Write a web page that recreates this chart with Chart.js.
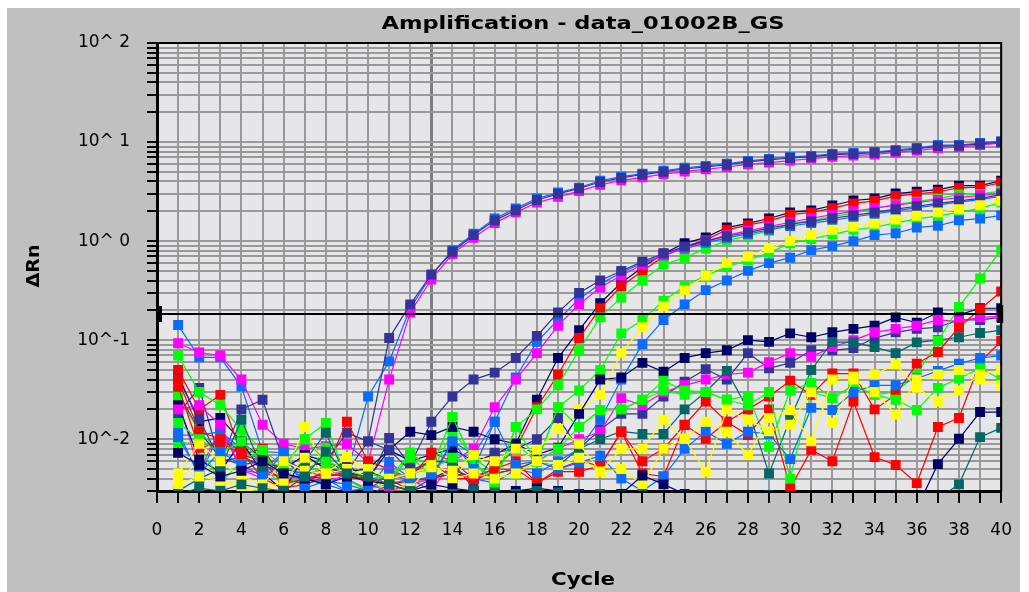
<!DOCTYPE html>
<html>
<head>
<meta charset="utf-8">
<script src="https://cdn.jsdelivr.net/npm/chart.js@4.4.0/dist/chart.umd.min.js"></script>
<style>
  html, body { margin: 0; padding: 0; background: #fff; }
</style>
</head>
<body>
<canvas id="ampChart" width="1029" height="592"></canvas>
<script>
// cycle numbers on the x axis
const cycles = [1,2,3,4,5,6,7,8,9,10,11,12,13,14,15,16,17,18,19,20,21,22,23,24,25,26,27,28,29,30,31,32,33,34,35,36,37,38,39,40]
const xTickLabels = ['0','2','4','6','8','10','12','14','16','18','20','22','24','26','28','30','32','34','36','38','40']
const decadeValues = [0.01, 0.1, 1, 10, 100]
const decadeLabels = ['10^-2', '10^-1', '10^ 0', '10^ 1', '10^ 2']

const threshold = 0.183

// delta Rn per well, cycles 1..40
const earlyBlue = [0.142,0.067,0.067,0.034,0.0075,0.0073,0.0042,0.0035,0.0045,0.027,0.061,0.21,0.45,0.81,1.19,1.69,2.14,2.69,3.09,3.47,4.07,4.47,4.79,5.13,5.5,5.75,6.03,6.46,6.76,7.08,7.24,7.59,7.76,7.94,8.32,8.71,9.33,9.33,9.77,10.2]
const earlyMagenta = [0.093,0.075,0.07,0.04,0.014,0.009,0.008,0.0085,0.009,0.0058,0.04,0.19,0.41,0.74,1.08,1.52,1.95,2.45,2.8,3.2,3.7,4.1,4.4,4.75,5.05,5.3,5.6,5.95,6.2,6.5,6.8,7.1,7.3,7.5,7.85,8.2,8.7,8.9,9.3,9.8]
const earlySlate = [0.018,0.033,0.0058,0.02,0.025,0.006,0.005,0.006,0.0116,0.0095,0.105,0.23,0.46,0.78,1.15,1.62,2.05,2.6,3.0,3.4,3.95,4.35,4.7,5.0,5.35,5.6,5.9,6.3,6.6,6.9,7.1,7.45,7.6,7.8,8.15,8.55,9.1,9.2,9.6,10.0]

const midNavy = [0.044,0.015,0.0164,0.0095,0.0062,0.005,0.0069,0.006,0.0047,0.004,0.0078,0.006,0.007,0.008,0.006,0.007,0.009,0.025,0.066,0.126,0.236,0.38,0.54,0.75,0.95,1.09,1.37,1.51,1.69,1.95,2.04,2.29,2.57,2.69,3.02,3.16,3.31,3.63,3.63,4.07]
const midRed = [0.05,0.02,0.028,0.007,0.008,0.004,0.0035,0.005,0.015,0.006,0.005,0.004,0.0073,0.006,0.004,0.0051,0.008,0.021,0.045,0.105,0.21,0.35,0.5,0.7,0.88,1.03,1.3,1.45,1.6,1.85,1.95,2.15,2.4,2.55,2.85,3.0,3.15,3.45,3.5,3.9]
const midMagenta = [0.025,0.0047,0.013,0.0049,0.004,0.006,0.005,0.004,0.004,0.003,0.0047,0.004,0.003,0.006,0.008,0.021,0.04,0.074,0.14,0.23,0.34,0.45,0.58,0.72,0.86,1.0,1.15,1.27,1.4,1.55,1.7,1.85,2.0,2.15,2.3,2.45,2.6,2.75,2.9,3.05]
const midBlue = [0.011,0.011,0.0119,0.008,0.006,0.0045,0.004,0.0035,0.003,0.0032,0.0059,0.004,0.0039,0.0095,0.007,0.015,0.042,0.096,0.16,0.26,0.37,0.48,0.6,0.72,0.84,0.96,1.08,1.18,1.3,1.42,1.52,1.62,1.75,1.88,2.02,2.18,2.32,2.48,2.62,2.85]
const midSlate = [0.03,0.012,0.0065,0.0055,0.006,0.005,0.0045,0.005,0.0058,0.0035,0.0103,0.0055,0.015,0.027,0.04,0.047,0.066,0.11,0.19,0.3,0.4,0.5,0.62,0.75,0.88,1.0,1.12,1.22,1.35,1.48,1.58,1.7,1.82,1.95,2.1,2.25,2.4,2.55,2.7,2.95]
const midGreen = [0.07,0.03,0.022,0.0124,0.0078,0.0053,0.01,0.0146,0.0039,0.0032,0.0035,0.0073,0.005,0.0168,0.0058,0.0036,0.0133,0.02,0.035,0.079,0.17,0.27,0.4,0.58,0.68,0.84,1.01,1.13,1.27,1.5,1.6,1.78,1.9,2.14,2.35,2.5,2.7,2.95,3.0,3.2]

const lateGreen = [0.027,0.012,0.0073,0.009,0.005,0.0035,0.0042,0.0082,0.0039,0.003,0.004,0.0065,0.0045,0.012,0.0065,0.0045,0.009,0.0059,0.021,0.031,0.05,0.117,0.16,0.25,0.35,0.45,0.55,0.64,0.76,0.95,1.05,1.17,1.3,1.38,1.53,1.67,1.8,1.95,2.15,2.45]
const lateYellow = [0.0039,0.006,0.004,0.003,0.0031,0.004,0.0133,0.005,0.0066,0.004,0.003,0.003,0.0058,0.004,0.0069,0.005,0.006,0.0078,0.0127,0.02,0.028,0.074,0.135,0.22,0.32,0.45,0.6,0.7,0.85,1.0,1.15,1.3,1.4,1.5,1.65,1.8,1.95,2.1,2.3,2.55]
const lateBlue = [0.012,0.0042,0.0119,0.007,0.005,0.0073,0.0035,0.004,0.003,0.0027,0.0035,0.004,0.0039,0.005,0.004,0.0036,0.005,0.0045,0.006,0.008,0.0157,0.04,0.091,0.16,0.23,0.32,0.4,0.5,0.6,0.68,0.81,0.89,1.0,1.15,1.2,1.37,1.43,1.62,1.69,1.82]

const lowNavy = [0.022,0.0062,0.0047,0.0095,0.0046,0.003,0.0069,0.005,0.0047,0.005,0.0078,0.0119,0.011,0.0133,0.0119,0.01,0.009,0.007,0.0082,0.018,0.04,0.042,0.059,0.048,0.066,0.074,0.079,0.1,0.096,0.117,0.107,0.12,0.13,0.14,0.17,0.15,0.19,0.18,0.21,0.21]
const lowSlate = [0.041,0.016,0.006,0.0065,0.0055,0.0045,0.004,0.0042,0.0047,0.0095,0.0078,0.0048,0.006,0.0058,0.0032,0.0073,0.008,0.01,0.0164,0.008,0.0125,0.018,0.018,0.027,0.038,0.051,0.04,0.074,0.052,0.059,0.079,0.079,0.083,0.105,0.12,0.13,0.135,0.16,0.16,0.17]
const lowMagenta = [0.02,0.022,0.014,0.0049,0.0045,0.0042,0.004,0.0045,0.0048,0.0035,0.003,0.0035,0.004,0.0045,0.004,0.005,0.0049,0.006,0.008,0.01,0.0119,0.026,0.022,0.03,0.035,0.04,0.045,0.047,0.06,0.074,0.068,0.085,0.1,0.12,0.13,0.14,0.16,0.155,0.17,0.175]
const lowTeal = [0.003,0.004,0.005,0.0157,0.005,0.004,0.006,0.0116,0.004,0.0047,0.004,0.003,0.004,0.005,0.004,0.0045,0.005,0.006,0.0054,0.008,0.01,0.012,0.0113,0.0113,0.02,0.03,0.049,0.02,0.0045,0.016,0.05,0.096,0.095,0.085,0.074,0.095,0.1,0.107,0.118,0.126]

const riseGreen = [0.0093,0.009,0.0036,0.006,0.0078,0.0035,0.0042,0.0053,0.0039,0.0045,0.004,0.0073,0.005,0.0065,0.0058,0.004,0.0045,0.0059,0.008,0.0133,0.0197,0.02,0.025,0.039,0.031,0.03,0.025,0.0274,0.0084,0.031,0.037,0.026,0.035,0.028,0.03,0.045,0.098,0.216,0.42,0.82]
const riseRed = [0.034,0.0082,0.0093,0.007,0.006,0.0035,0.004,0.0045,0.0042,0.004,0.0035,0.0038,0.004,0.0045,0.0042,0.005,0.006,0.0036,0.005,0.006,0.0054,0.0119,0.006,0.008,0.014,0.024,0.015,0.02,0.027,0.039,0.028,0.046,0.046,0.02,0.028,0.058,0.076,0.135,0.205,0.31]
const noiseRed = [0.04,0.012,0.01,0.0075,0.004,0.0032,0.0035,0.0042,0.0045,0.0038,0.004,0.0045,0.006,0.004,0.004,0.0045,0.005,0.0036,0.0047,0.0047,0.0054,0.0119,0.0045,0.0042,0.0139,0.0101,0.015,0.011,0.02,0.0032,0.0078,0.006,0.024,0.0066,0.0055,0.0036,0.0133,0.0164,0.06,0.098]
const noiseYellow = [0.0045,0.009,0.006,0.0042,0.0035,0.006,0.0048,0.0045,0.0066,0.005,0.004,0.0045,0.0052,0.0048,0.0069,0.006,0.008,0.0078,0.0127,0.009,0.0047,0.008,0.008,0.0157,0.0101,0.015,0.0119,0.0069,0.0164,0.0197,0.0095,0.04,0.043,0.045,0.057,0.033,0.024,0.031,0.045,0.05]
const noiseYellow2 = [0.0035,0.0042,0.0038,0.0035,0.003,0.0038,0.0065,0.0045,0.005,0.0042,0.0035,0.0032,0.0055,0.004,0.0045,0.004,0.0045,0.006,0.0055,0.0065,0.0047,0.005,0.0035,0.008,0.0101,0.0047,0.02,0.0157,0.012,0.014,0.03,0.0146,0.04,0.03,0.0177,0.04,0.045,0.05,0.04,0.035]
const noiseBlue = [0.0105,0.0045,0.0075,0.0055,0.0042,0.0073,0.0032,0.0038,0.0035,0.003,0.0045,0.0038,0.0042,0.0095,0.005,0.015,0.0055,0.006,0.005,0.0058,0.0068,0.004,0.003,0.0042,0.008,0.012,0.009,0.0119,0.0113,0.0063,0.0207,0.0197,0.03,0.035,0.035,0.041,0.049,0.058,0.066,0.07]
const noiseGreen = [0.0146,0.01,0.0073,0.0095,0.006,0.0053,0.01,0.006,0.005,0.004,0.0042,0.0045,0.005,0.0168,0.0058,0.0036,0.0133,0.0059,0.021,0.0133,0.0197,0.02,0.025,0.031,0.028,0.03,0.025,0.022,0.03,0.004,0.03,0.026,0.035,0.028,0.025,0.0197,0.033,0.041,0.052,0.04]
const noiseTeal = [0.0028,0.0032,0.003,0.0035,0.0032,0.003,0.0042,0.0075,0.0045,0.0042,0.0035,0.003,0.0028,0.0028,0.003,0.0029,0.0028,0.003,0.0029,0.0027,0.0028,0.0027,0.0028,0.0026,0.0027,0.0026,0.0027,0.0026,0.0027,0.0026,0.0025,0.0025,0.0025,0.0025,0.0026,0.0025,0.0025,0.0035,0.0105,0.013]
const noiseNavy = [0.0073,0.0055,0.0042,0.0048,0.006,0.0045,0.004,0.0035,0.0042,0.0038,0.0035,0.003,0.0035,0.0032,0.003,0.0028,0.003,0.0032,0.003,0.0028,0.0027,0.0028,0.0043,0.0035,0.0028,0.0027,0.0026,0.0026,0.0027,0.0025,0.0025,0.0026,0.0025,0.0025,0.0025,0.002,0.0056,0.0101,0.0188,0.0188]

const BLUE = '#0a6cff', MAGENTA = '#ff00ff', NAVY = '#000066', SLATE = '#333399'
const GREEN = '#00ff00', RED = '#ff0000', YELLOW = '#ffff00', TEAL = '#006666'

// drawn first = underneath
const wells = [
  [noiseTeal, TEAL], [noiseNavy, NAVY], [noiseYellow2, YELLOW], [noiseYellow, YELLOW],
  [noiseBlue, BLUE], [noiseGreen, GREEN], [noiseRed, RED], [riseRed, RED], [riseGreen, GREEN],
  [lowTeal, TEAL], [lowMagenta, MAGENTA], [lowSlate, SLATE], [lowNavy, NAVY],
  [lateBlue, BLUE], [lateYellow, YELLOW], [lateGreen, GREEN],
  [midSlate, SLATE], [midMagenta, MAGENTA], [midBlue, BLUE], [midGreen, GREEN], [midRed, RED], [midNavy, NAVY],
  [earlySlate, SLATE], [earlyMagenta, MAGENTA], [earlyBlue, BLUE]
]

const datasets = wells.map(([values, color]) => ({
  data: values.map((v, i) => ({x: cycles[i], y: v})),
  borderColor: color,
  backgroundColor: color,
  pointBackgroundColor: color,
  borderWidth: 1.2,
  pointStyle: 'rect',
  pointRadius: 7,
  pointBorderWidth: 0,
  tension: 0,
  clip: 0
}))

function drawText(c, text, font, x, y, width, rotate) {
  c.save()
  c.font = font
  c.fillStyle = '#000'
  c.textAlign = 'center'
  c.textBaseline = 'middle'
  c.translate(x, y)
  if (rotate) c.rotate(-Math.PI / 2)
  c.scale(width / c.measureText(text).width, 1)
  c.fillText(text, 0, 0)
  c.restore()
}

const plotDecor = {
  id: 'plotDecor',
  beforeDraw(chart) {
    const c = chart.ctx, a = chart.chartArea
    c.save()
    c.fillStyle = '#ffffff'
    c.fillRect(0, 0, chart.width, chart.height)
    c.fillStyle = '#c0c0c0'
    c.fillRect(7, 8, 1013, 584)
    c.fillStyle = '#e6e6e8'
    c.fillRect(a.left, a.top, a.right - a.left, a.bottom - a.top)
    c.restore()
  },
  afterDatasetsDraw(chart) {
    const c = chart.ctx, a = chart.chartArea
    const ty = Math.round(chart.scales.y.getPixelForValue(threshold))
    c.save()
    c.strokeStyle = '#000'
    c.lineWidth = 2
    c.beginPath()
    c.moveTo(a.left, ty)
    c.lineTo(a.right, ty)
    c.moveTo(a.left, a.top)
    c.lineTo(a.right, a.top)
    c.lineTo(a.right, a.bottom)
    c.stroke()
    // threshold handles
    c.fillStyle = '#000'
    c.fillRect(a.left - 1, ty - 8, 6, 16)
    c.fillRect(a.right - 4, ty - 9, 6, 18)
    c.restore()
  },
  afterDraw(chart) {
    const c = chart.ctx
    drawText(c, 'Amplification - data_01002B_GS', 'bold 17px "DejaVu Sans"', 583, 25, 403)
    drawText(c, 'Cycle', 'bold 17px "DejaVu Sans"', 583, 581, 64)
    drawText(c, 'ΔRn', 'bold 17px "DejaVu Sans"', 35, 266, 43, true)
  }
}

const ctx = document.getElementById('ampChart').getContext('2d')

const chart = new Chart(ctx, {
  type: 'line',
  data: { datasets: datasets },
  plugins: [plotDecor],
  options: {
    responsive: false,
    animation: false,
    events: [],
    layout: { padding: { left: 0, right: 19, top: 43, bottom: 0 } },
    plugins: {
      legend: { display: false },
      title: { display: false },
      tooltip: { enabled: false }
    },
    scales: {
      x: {
        type: 'linear',
        min: 0,
        max: 40,
        afterFit(scale) { scale.height = 101 },
        border: { color: '#000', width: 3 },
        grid: {
          color: (c) => c.tick && c.tick.value === 13 ? '#7d7d7d' : '#999999',
          lineWidth: (c) => c.tick && c.tick.value === 13 ? 3 : 2,
          tickColor: '#000',
          tickLength: 12,
          tickWidth: (c) => c.tick && c.tick.value === 13 ? 3 : 2
        },
        ticks: {
          stepSize: 1,
          autoSkip: false,
          maxRotation: 0,
          padding: 17,
          color: '#000',
          font: { family: 'DejaVu Sans', size: 17 },
          callback: (v) => xTickLabels.includes(String(v)) ? String(v) : ''
        }
      },
      y: {
        type: 'logarithmic',
        min: 0.003,
        max: 100,
        afterFit(scale) { scale.width = 157 },
        afterBuildTicks(scale) {
          const ticks = []
          for (let e = -3; e <= 1; e++) {
            for (let s = 1; s <= 9; s++) {
              const v = +(s * Math.pow(10, e)).toPrecision(3)
              if (v >= 0.003) ticks.push({ value: v })
            }
          }
          ticks.push({ value: 100 })
          scale.ticks = ticks
        },
        border: { color: '#000', width: 3 },
        grid: {
          color: '#999999',
          lineWidth: 2,
          tickColor: '#000',
          tickLength: 10,
          tickWidth: 2
        },
        ticks: {
          autoSkip: false,
          padding: 17,
          color: '#000',
          font: { family: 'DejaVu Sans', size: 17 },
          callback: (v) => {
            const i = decadeValues.findIndex(d => Math.abs(d - v) < d * 1e-6)
            return i >= 0 ? decadeLabels[i] : ''
          }
        }
      }
    }
  }
})
</script>
</body>
</html>
